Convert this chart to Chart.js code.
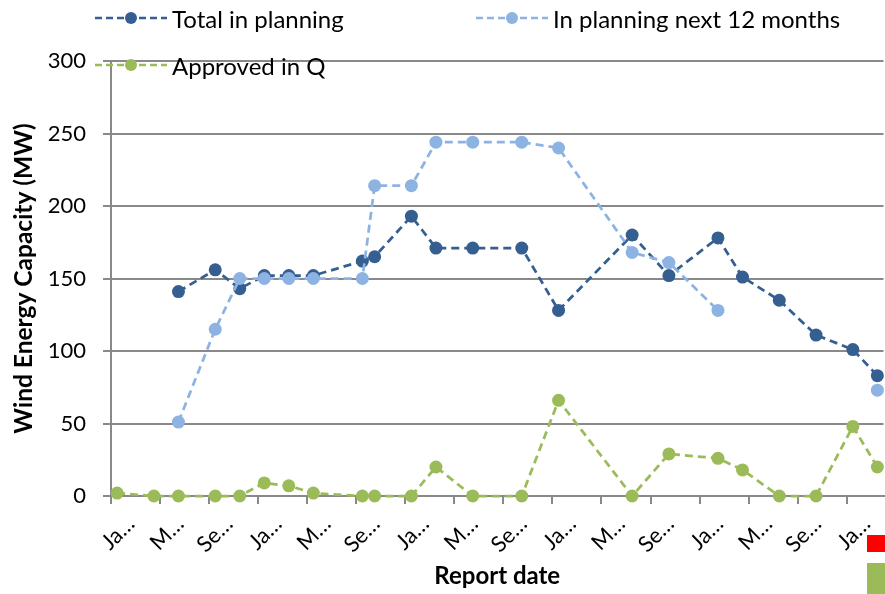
<!DOCTYPE html>
<html lang="en">
<head>
<meta charset="UTF-8">
<title>Wind Energy Capacity</title>
<script src="https://cdn.jsdelivr.net/npm/chart.js"></script>
<style>
  html, body {
    margin: 0;
    padding: 0;
    width: 885px;
    height: 594px;
    overflow: hidden;
    background: #ffffff;
    font-family: 'Lato', sans-serif;
  }
  #wrap {
    position: absolute;
    left: 0;
    top: 0;
    width: 890px;
    height: 594px;
  }
  #legend {
    position: absolute;
    left: 0;
    top: 0;
    width: 885px;
    height: 90px;
  }
  .item {
    position: absolute;
    display: flex;
    align-items: center;
    height: 30px;
    font-size: 24px;
    color: #000;
    white-space: nowrap;
  }
  .item svg { margin-right: 5px; }
  .swatch { position: absolute; left: 867px; width: 18px; }
</style>
</head>
<body>
<div id="wrap"><canvas id="windChart"></canvas></div>
<div id="legend"></div>
<div class="swatch" style="top:535px;height:17px;background:#ff0000"></div>
<div class="swatch" style="top:563px;height:31px;background:#9bbb59"></div>

<script>
// report dates (mid-month)
const reportDates = ['2009-01', '2009-04', '2009-06', '2009-09', '2009-11', '2010-01', '2010-03', '2010-05',
    '2010-09', '2010-10', '2011-01', '2011-03', '2011-06', '2011-10', '2012-01', '2012-07', '2012-10',
    '2013-02', '2013-04', '2013-07', '2013-10', '2014-01', '2014-03'];

const totalInPlanning = [null, null, 141, 156, 143, 152, 152, 152, 162, 165, 193, 171, 171, 171, 128, 180, 152,
    178, 151, 135, 111, 101, 83];
const planningNext12 = [null, null, 51, 115, 150, 150, 150, 150, 150, 214, 214, 244, 244, 244, 240, 168, 161,
    128, null, null, null, null, 73];
const approvedInQ = [2, 0, 0, 0, 0, 9, 7, 2, 0, 0, 0, 20, 0, 0, 66, 0, 29,
    26, 18, 0, 0, 48, 20];

const xTickLabels = ['Ja…', 'M…', 'Se…', 'Ja…', 'M…', 'Se…', 'Ja…', 'M…', 'Se…', 'Ja…', 'M…', 'Se…',
    'Ja…', 'M…', 'Se…', 'Ja…'];
const yTicks = [0, 50, 100, 150, 200, 250, 300];

const seriesNames = ['Total in planning', 'In planning next 12 months', 'Approved in Q'];
const seriesColors = ['#365f91', '#8db3e2', '#9bbb59'];

function monthIndex(d) {
    const [y, m] = d.split('-').map(Number);
    return (y - 2009) * 12 + (m - 1) + 0.5;
}

function toPoints(values) {
    return reportDates.map((d, i) => ({ x: monthIndex(d), y: values[i] }));
}

const gridGray = '#898989';
const allSeries = [totalInPlanning, planningNext12, approvedInQ];

const datasets = allSeries.map((vals, i) => ({
    label: seriesNames[i],
    data: toPoints(vals),
    borderColor: seriesColors[i],
    backgroundColor: seriesColors[i],
    borderWidth: 2.75,
    borderDash: [8, 5],
    pointRadius: 6.5,
    pointBorderWidth: 0,
    pointHoverRadius: 6.5,
    spanGaps: false,
    tension: 0,
    clip: false,
    order: 3 - i
}));

new Chart(document.getElementById('windChart'), {
    type: 'line',
    data: { datasets: datasets },
    options: {
        responsive: true,
        maintainAspectRatio: false,
        animation: false,
        layout: { padding: { top: 61, left: 0, right: 1, bottom: 0 } },
        plugins: {
            legend: { display: false },
            tooltip: { enabled: false }
        },
        scales: {
            x: {
                type: 'linear',
                min: 0,
                max: 63,
                afterBuildTicks: (scale) => {
                    scale.ticks = xTickLabels.map((t, i) => ({ value: i * 4 }));
                },
                afterFit: (scale) => { scale.height = 98; },
                ticks: {
                    autoSkip: false,
                    minRotation: 45,
                    maxRotation: 45,
                    labelOffset: 20,
                    padding: 7,
                    color: '#000',
                    font: { family: 'Lato', size: 22 },
                    callback: (value) => xTickLabels[Math.round(value / 4)]
                },
                grid: {
                    drawOnChartArea: false,
                    drawTicks: true,
                    tickLength: 8,
                    color: gridGray,
                    lineWidth: 2
                },
                border: { color: gridGray, width: 2 },
                title: {
                    display: true,
                    text: 'Report date',
                    color: '#000',
                    font: { family: 'Lato', size: 24, weight: 'bold', lineHeight: 1.2 },
                    padding: { top: 0, bottom: 3 }
                }
            },
            y: {
                min: 0,
                max: 300,
                afterBuildTicks: (scale) => {
                    scale.ticks = yTicks.map(v => ({ value: v }));
                },
                afterFit: (scale) => { scale.width = 111; },
                ticks: {
                    padding: 17,
                    color: '#000',
                    font: { family: 'Lato', size: 22 }
                },
                grid: {
                    color: gridGray,
                    lineWidth: 2,
                    tickLength: 8
                },
                border: { color: gridGray, width: 2 },
                title: {
                    display: true,
                    text: 'Wind Energy Capacity (MW)',
                    color: '#000',
                    font: { family: 'Lato', size: 24.5, weight: 'bold', lineHeight: 1.2 },
                    padding: { top: 9, bottom: 0 }
                }
            }
        }
    }
});

// legend drawn over the plot, like the original
const legendPos = [[95, 3], [476, 3], [95, 50]];
const legendBox = document.getElementById('legend');
seriesNames.forEach((name, i) => {
    const item = document.createElement('div');
    item.className = 'item';
    item.style.left = legendPos[i][0] + 'px';
    item.style.top = legendPos[i][1] + 'px';
    item.innerHTML =
        '<svg width="72" height="16"><line x1="0" y1="8" x2="72" y2="8" stroke="' + seriesColors[i] +
        '" stroke-width="2.5" stroke-dasharray="7 4"/><circle cx="36" cy="8" r="6" fill="' + seriesColors[i] +
        '"/></svg><span>' + name + '</span>';
    legendBox.appendChild(item);
});
</script>
</body>
</html>
